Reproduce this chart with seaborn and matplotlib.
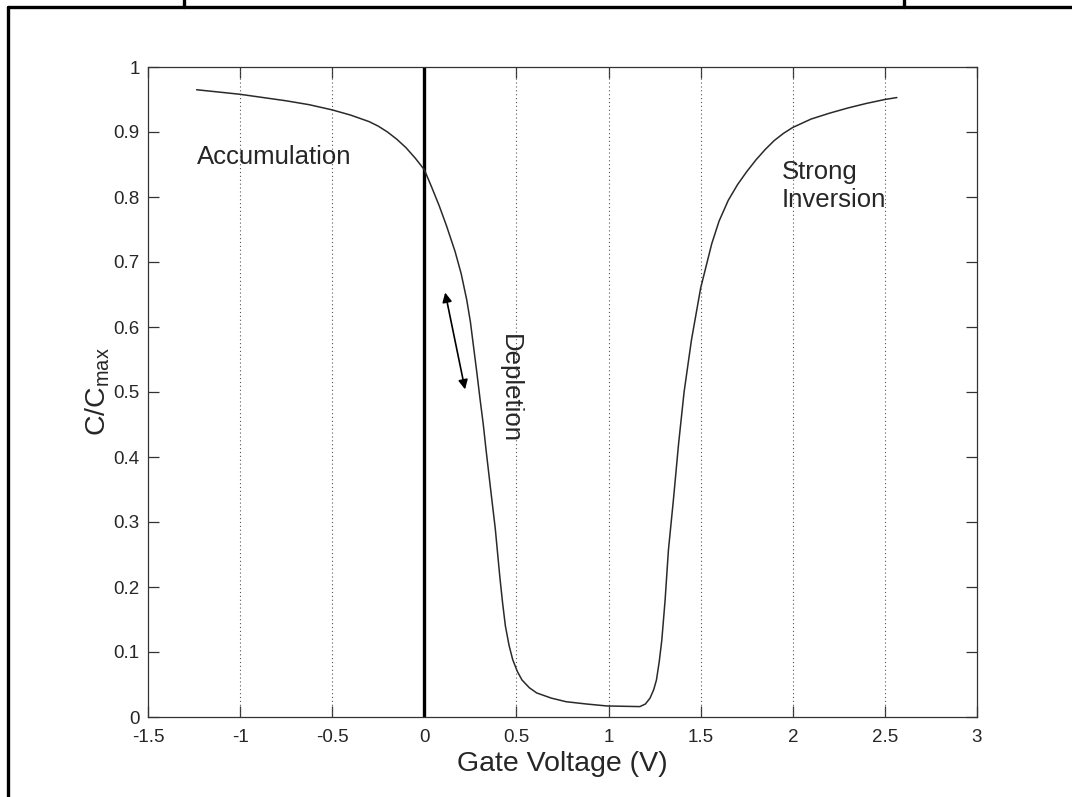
import matplotlib
matplotlib.use("Agg")
import matplotlib.pyplot as plt
from matplotlib.lines import Line2D
import seaborn as sns

# Normalized MOS capacitance vs gate voltage
gate_voltage = [
    -1.236, -1.1, -1.0, -0.875, -0.75, -0.625, -0.5, -0.4, -0.3, -0.25, -0.2,
    -0.15, -0.1, -0.05, 0.0, 0.04, 0.08, 0.12, 0.167, 0.2, 0.23, 0.25, 0.267,
    0.285, 0.302, 0.32, 0.335, 0.36, 0.385, 0.41, 0.425, 0.44, 0.46, 0.48,
    0.505, 0.53, 0.57, 0.61, 0.69, 0.77, 0.88, 0.99, 1.08, 1.17, 1.2, 1.225,
    1.245, 1.26, 1.275, 1.289, 1.307, 1.325, 1.352, 1.38, 1.41, 1.45, 1.5,
    1.56, 1.6, 1.65, 1.7, 1.75, 1.8, 1.85, 1.9, 1.95, 2.0, 2.1, 2.2, 2.3,
    2.4, 2.5, 2.565,
]
cap_ratio = [
    0.965, 0.961, 0.958, 0.953, 0.948, 0.942, 0.934, 0.926, 0.916, 0.909, 0.9,
    0.889, 0.876, 0.86, 0.842, 0.815, 0.787, 0.756, 0.716, 0.682, 0.642, 0.608,
    0.57, 0.53, 0.49, 0.45, 0.411, 0.35, 0.29, 0.215, 0.175, 0.14, 0.11,
    0.088, 0.07, 0.057, 0.045, 0.037, 0.029, 0.0235, 0.02, 0.017, 0.0165,
    0.016, 0.02, 0.029, 0.042, 0.057, 0.085, 0.118, 0.18, 0.257, 0.334, 0.42,
    0.5, 0.58, 0.66, 0.728, 0.763, 0.795, 0.819, 0.839, 0.857, 0.873, 0.887,
    0.898, 0.907, 0.92, 0.929, 0.937, 0.944, 0.95, 0.953,
]
x_ticks = [-1.5, -1, -0.5, 0, 0.5, 1, 1.5, 2, 2.5, 3]
x_tick_labels = ["-1.5", "-1", "-0.5", "0", "0.5", "1", "1.5", "2", "2.5", "3"]
y_ticks = [0, 0.1, 0.2, 0.3, 0.4, 0.5, 0.6, 0.7, 0.8, 0.9, 1]
y_tick_labels = ["0", "0.1", "0.2", "0.3", "0.4", "0.5", "0.6", "0.7", "0.8", "0.9", "1"]

sns.set_style("ticks")
plt.rcParams["font.family"] = ["Liberation Sans", "DejaVu Sans"]
plt.rcParams["mathtext.fontset"] = "custom"
plt.rcParams["mathtext.rm"] = "Liberation Sans"
plt.rcParams["mathtext.it"] = "Liberation Sans"

fig = plt.figure(figsize=(10.72, 7.97), dpi=100)
ax = fig.add_axes([148 / 1072, 1 - 717 / 797, (977 - 148) / 1072, (717 - 67) / 797])

# vertical dotted grid at the x ticks
for xv in x_ticks[1:-1]:
    ax.axvline(xv, color="#555555", lw=0.8, ls=(0, (1, 2.5)), zorder=1)

# reference line at zero volts
ax.axvline(0, color="black", lw=2.4, zorder=2)

sns.lineplot(x=gate_voltage, y=cap_ratio, ax=ax, color="#2a2a2a", lw=1.1,
             estimator=None, sort=False, zorder=3)

ax.set_xlim(-1.5, 3)
ax.set_ylim(0, 1)
ax.set_xticks(x_ticks)
ax.set_xticklabels(x_tick_labels)
ax.set_yticks(y_ticks)
ax.set_yticklabels(y_tick_labels)
ax.tick_params(direction="in", length=8, width=0.9, top=True, right=True,
               labelsize=13.5, color="#333333", pad=6)
ax.tick_params(axis="x", pad=9)
for s in ax.spines.values():
    s.set_linewidth(0.9)
    s.set_color("#333333")

ax.set_xlabel("Gate Voltage (V)", fontsize=20.5, labelpad=3)
ax.set_ylabel(r"C/C$_{\mathrm{max}}$", fontsize=20.5, labelpad=1)

ax.text(-1.235, 0.862, "Accumulation", fontsize=18.5, ha="left", va="center")
ax.text(1.94, 0.817, "Strong\nInversion", fontsize=18.5, ha="left", va="center",
        linespacing=1.2)
ax.text(0.462, 0.505, "Depletion", fontsize=18.5, ha="center", va="center",
        rotation=270)

ax.annotate("", xy=(0.113, 0.653), xytext=(0.221, 0.504),
            arrowprops=dict(arrowstyle="<|-|>", color="black", lw=1.2,
                            mutation_scale=14, shrinkA=0, shrinkB=0))

# page frame around the figure
fw = 2.4
fig.add_artist(Line2D([8 / 1072, 1], [1 - 7 / 797, 1 - 7 / 797], color="black", lw=fw))
fig.add_artist(Line2D([8 / 1072, 8 / 1072], [0, 1 - 7 / 797], color="black", lw=fw))
fig.add_artist(Line2D([184 / 1072, 184 / 1072], [1 - 7 / 797, 1], color="black", lw=fw))
fig.add_artist(Line2D([904 / 1072, 904 / 1072], [1 - 7 / 797, 1], color="black", lw=fw))

fig.savefig("out.png", dpi=100, facecolor="white")
